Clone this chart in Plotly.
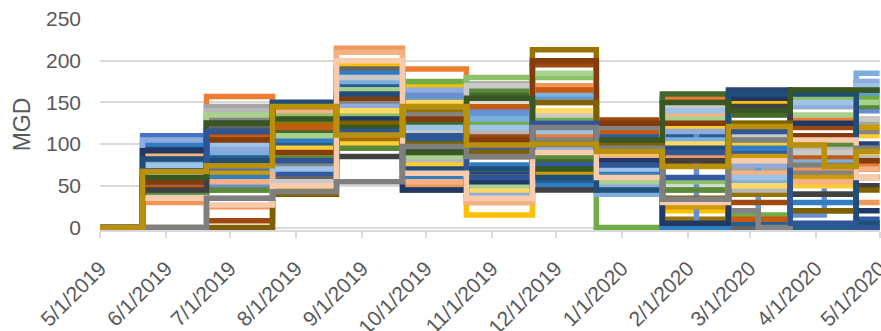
import plotly.graph_objects as go

# Step start dates (billing-period boundaries) and end date
period_starts = ['2019-05-01', '2019-05-21', '2019-06-20', '2019-07-21', '2019-08-20',
                 '2019-09-20', '2019-10-20', '2019-11-20', '2019-12-20', '2020-01-20',
                 '2020-02-05', '2020-02-20', '2020-03-05', '2020-03-20', '2020-04-05',
                 '2020-04-20']
end_date = '2020-05-01'

tick_dates = ['2019-05-01', '2019-06-01', '2019-07-01', '2019-08-01', '2019-09-01',
              '2019-10-01', '2019-11-01', '2019-12-01', '2020-01-01', '2020-02-01',
              '2020-03-01', '2020-04-01', '2020-05-01']
tick_labels = ['5/1/2019', '6/1/2019', '7/1/2019', '8/1/2019', '9/1/2019', '10/1/2019',
               '11/1/2019', '12/1/2019', '1/1/2020', '2/1/2020', '3/1/2020', '4/1/2020',
               '5/1/2020']

# MGD per period for each meter series
mgd_values = [
    [0, 110, 70, 95, 140, 120, 100, 120, 85, 100, 100, 120, 120, 90, 90, 80],
    [0, 45, 157, 130, 150, 190, 90, 110, 113, 155, 155, 100, 100, 130, 130, 75],
    [0, 40, 145, 150, 180, 130, 172, 140, 100, 140, 140, 70, 70, 60, 60, 125],
    [0, 60, 100, 110, 195, 170, 15, 70, 60, 20, 20, 150, 150, 145, 145, 130],
    [0, 95, 75, 85, 160, 155, 135, 155, 90, 125, 125, 80, 0, 110, 110, 160],
    [0, 85, 45, 140, 120, 175, 125, 130, 0, 45, 45, 15, 15, 165, 165, 155],
    [0, 95, 115, 100, 95, 110, 65, 60, 55, 115, 115, 165, 165, 150, 150, 100],
    [0, 55, 8, 105, 130, 120, 110, 195, 129, 75, 75, 30, 30, 120, 120, 60],
    [0, 50, 120, 60, 190, 75, 100, 90, 65, 0, 0, 0, 0, 105, 105, 95],
    [0, 70, 55, 125, 105, 140, 85, 213, 70, 10, 10, 40, 40, 0, 0, 0],
    [0, 90, 85, 100, 170, 105, 50, 55, 45, 110, 110, 5, 5, 0, 0, 0],
    [0, 75, 65, 115, 145, 125, 160, 80, 50, 160, 160, 135, 135, 20, 20, 165],
    [0, 70, 50, 80, 150, 160, 140, 100, 105, 130, 0, 60, 60, 15, 80, 140],
    [0, 30, 25, 90, 215, 50, 30, 170, 75, 85, 85, 115, 115, 70, 70, 30],
    [0, 80, 140, 130, 165, 80, 115, 125, 80, 90, 90, 45, 45, 95, 95, 85],
    [0, 65, 100, 95, 100, 75, 60, 90, 85, 120, 120, 100, 100, 50, 50, 110],
    [0, 78, 90, 70, 175, 145, 130, 160, 40, 105, 105, 55, 55, 80, 80, 185],
    [0, 62, 130, 135, 135, 85, 180, 180, 95, 55, 55, 125, 125, 155, 155, 150],
    [0, 52, 105, 65, 125, 100, 95, 75, 110, 60, 60, 90, 90, 40, 40, 10],
    [0, 48, 110, 120, 110, 150, 145, 165, 115, 150, 150, 10, 10, 85, 85, 70],
    [0, 38, 130, 75, 150, 135, 90, 105, 120, 95, 95, 20, 0, 65, 65, 115],
    [0, 58, 65, 45, 115, 90, 70, 65, 95, 25, 25, 85, 85, 60, 60, 120],
    [0, 100, 60, 105, 185, 60, 75, 50, 65, 0, 0, 95, 95, 30, 30, 5],
    [0, 42, 45, 85, 95, 45, 165, 85, 60, 45, 45, 140, 140, 100, 100, 145],
    [0, 105, 95, 55, 145, 165, 40, 95, 50, 115, 115, 75, 75, 145, 145, 175],
    [0, 88, 55, 140, 210, 55, 30, 150, 85, 135, 135, 65, 65, 55, 55, 70],
    [0, 36, 35, 55, 180, 115, 170, 135, 100, 145, 145, 110, 110, 90, 90, 130],
    [0, 92, 80, 90, 140, 150, 45, 140, 90, 100, 100, 50, 50, 75, 75, 90],
    [0, 74, 100, 70, 155, 120, 120, 115, 70, 140, 140, 60, 60, 150, 150, 170],
    [0, 66, 135, 110, 165, 85, 50, 185, 55, 130, 130, 105, 105, 135, 135, 150],
    [0, 92, 125, 150, 130, 45, 55, 100, 80, 5, 5, 155, 155, 125, 125, 20],
    [0, 55, 105, 90, 155, 130, 105, 200, 125, 125, 125, 120, 120, 110, 110, 80],
    [0, 45, 115, 145, 85, 95, 85, 45, 95, 80, 80, 145, 145, 40, 40, 50],
    [0, 0, 0, 40, 125, 100, 90, 150, 100, 35, 35, 125, 125, 20, 20, 45],
    [0, 82, 80, 150, 160, 70, 70, 60, 45, 95, 95, 160, 160, 160, 160, 5],
    [0, 60, 125, 130, 120, 90, 155, 70, 105, 150, 150, 140, 140, 165, 165, 165],
    [0, 68, 115, 80, 115, 110, 60, 125, 75, 90, 90, 115, 115, 5, 5, 0],
    [0, 35, 27, 50, 200, 65, 35, 90, 60, 30, 30, 80, 80, 105, 105, 60],
    [0, 0, 35, 43, 55, 97, 85, 120, 95, 34, 34, 105, 105, 75, 75, 95],
    [0, 67, 74, 145, 111, 145, 99, 100, 91, 73, 73, 121, 121, 99, 73, 91],
]

series_colors = ['#4472C4', '#ED7D31', '#A5A5A5', '#FFC000', '#5B9BD5', '#70AD47',
                 '#264478', '#9E480E', '#636363', '#997300', '#255E91', '#43682B',
                 '#698ED0', '#F1975A', '#B7B7B7', '#FFCD33', '#7CAFDD', '#8CC168',
                 '#335AA1', '#C55A11', '#848484', '#CC9A00', '#327DC2', '#5A8A39',
                 '#8FAADC', '#F4B183', '#C9C9C9', '#FFD966', '#9DC3E6', '#A9D18E',
                 '#203864', '#843C0C', '#404040', '#7F6000', '#1F4E79', '#385723',
                 '#2F5597', '#F8CBAD', '#7F7F7F', '#B8900A']

fig = go.Figure()
x_pts = period_starts + [end_date]
for vals, col in zip(mgd_values, series_colors):
    y_pts = vals + [vals[-1]]
    fig.add_trace(go.Scatter(x=x_pts, y=y_pts, mode='lines', line_shape='hv',
                             line=dict(color=col, width=5.5), showlegend=False,
                             hoverinfo='skip'))

font_family = 'Liberation Sans, Arial, sans-serif'
fig.update_layout(
    width=881, height=331,
    margin=dict(l=100, r=1, t=19, b=101, autoexpand=False),
    paper_bgcolor='white', plot_bgcolor='white',
    font=dict(family=font_family, color='#595959'),
    xaxis=dict(
        type='date', range=['2019-05-01', '2020-05-01 04:00'],
        tickvals=tick_dates, ticktext=tick_labels, tickangle=-45,
        tickfont=dict(size=21, color='#595959'), ticklabelstandoff=10,
        ticklabeloverflow='allow',
        showgrid=False, showline=True, linecolor='#d9d9d9', linewidth=1.5,
        ticks='outside', ticklen=6, tickcolor='#d9d9d9', tickwidth=1.5,
        automargin=False, zeroline=False,
    ),
    yaxis=dict(
        range=[-3, 250], tickvals=[0, 50, 100, 150, 200, 250],
        tickfont=dict(size=21, color='#595959'),
        showgrid=True, gridcolor='#d9d9d9', gridwidth=1.5,
        zeroline=False, showline=False, ticks='', ticklabelstandoff=18,
        title=dict(text='MGD', font=dict(size=23, color='#595959'), standoff=8),
        automargin=False,
    ),
)

fig.write_html('out.html')
